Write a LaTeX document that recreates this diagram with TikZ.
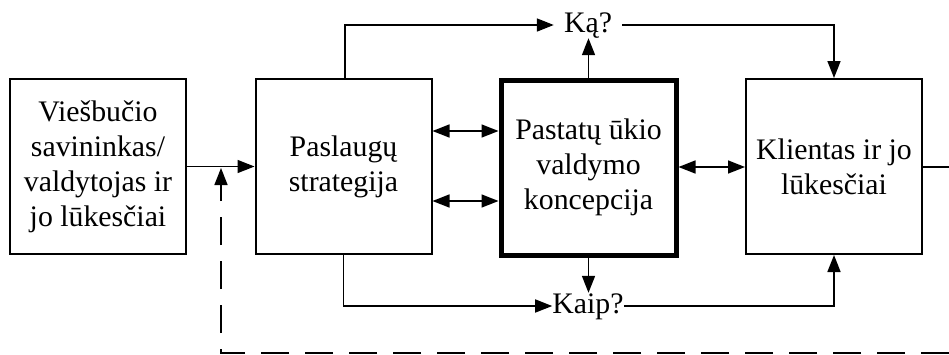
\documentclass[tikz,border=0pt]{standalone}
\usepackage{fontspec}
\setmainfont{Liberation Serif}
\usetikzlibrary{arrows.meta}
\begin{document}
\begin{tikzpicture}[x=1pt,y=-1pt,
  font=\fontsize{29.8}{35}\selectfont,
  blok/.style={draw, line width=2pt, minimum width=176, minimum height=175,
    align=center, inner sep=0pt},
  pagr/.style={blok, line width=5pt, minimum width=175, minimum height=175},
  klaus/.style={inner sep=0pt, minimum width=68, text height=20, text depth=6},
  ryssys/.style={line width=1.6pt},
  galas/.tip={Triangle[length=17pt,width=13pt]},
  rod/.style={ryssys, -galas},
  abi/.style={ryssys, galas-galas},
  bruk/.style={rod, dash pattern=on 28pt off 16pt}]
\useasboundingbox (0,0) rectangle (949,354);

% blocks
\node[blok] (sav) at (98,166.5) {Viešbučio\\savininkas/\\valdytojas ir\\jo lūkesčiai};
\node[blok] (str) at (343.5,166.5) {Paslaugų\\strategija};
\node[pagr] (konc) at (588.5,167.5) {Pastatų ūkio\\valdymo\\koncepcija};
\node[blok] (kl) at (834,166.5) {Klientas ir jo\\lūkesčiai};

% questions
\node[klaus] (ka) at (588,25) {Ką?};
\node[klaus] (kaip) at (588,306) {Kaip?};

% owner to strategy
\draw[rod] (sav.east) -- (str.west);

% strategy <-> concept
\draw[abi] (str.east |- 0,131) -- (konc.west |- 0,131);
\draw[abi] (str.east |- 0,201) -- (konc.west |- 0,201);

% concept <-> client
\draw[abi] (konc.east |- 0,167) -- (kl.west |- 0,167);

% client output to the right
\coordinate (isejimas) at (949,167);
\draw[ryssys] (kl.east |- isejimas) -- (isejimas);

% upper path: "Ką?"
\draw[rod] ([xshift=1.5]str.north) |- (ka.west);
\draw[rod] (konc.north) -- (konc.north |- ka.south);
\draw[rod] (ka.east) -| (kl.north);

% lower path: "Kaip?"
\draw[rod] (str.south) |- (kaip.west);
\draw[rod] (konc.south) -- (konc.south |- kaip.north);
\draw[rod] (kaip.east) -| (kl.south);

% dashed feedback
\coordinate (gr1) at (949,353);
\coordinate (gr2) at (221,353);
\coordinate (gr3) at (221,168);
\draw[bruk] (gr1) -- (gr2) -- (gr3);
\end{tikzpicture}
\end{document}
